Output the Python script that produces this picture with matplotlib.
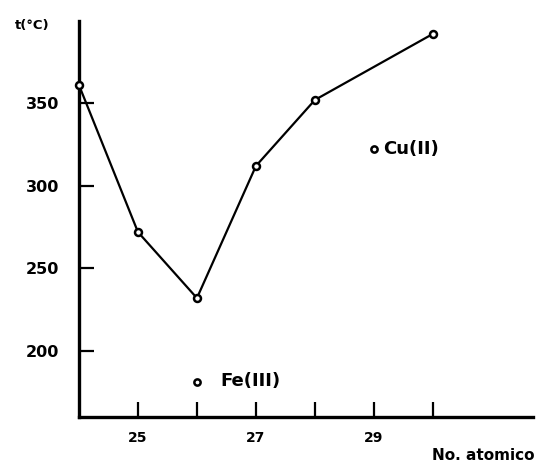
import numpy as np
import matplotlib.pyplot as plt

# dados
numero_atomico = [24, 25, 26, 27, 28, 30]
temperatura = [361, 272, 232, 312, 352, 392]

# pontos isolados
cu_x, cu_y = [29], [322]
fe_x, fe_y = [26], [181]

xticks_maiores = [25, 27, 29]
xticks_menores = [26, 28, 30]
yticks = [200, 250, 300, 350]

plt.rcParams['font.family'] = ['DejaVu Sans']
plt.rcParams['font.weight'] = 'bold'

fig = plt.figure(figsize=(5.52, 4.63), dpi=100)
ax = fig.add_axes([0.143, 0.0994, 0.823, 0.856])

ax.plot(numero_atomico, temperatura, color="black", linewidth=1.6,
        marker="o", markersize=5, markerfacecolor="white",
        markeredgecolor="black", markeredgewidth=1.8, clip_on=False, zorder=3)
ax.plot(cu_x, cu_y, "o", color="black", markersize=4.5,
        markerfacecolor="white", markeredgewidth=1.8)
ax.plot(fe_x, fe_y, "o", color="black", markersize=4.5,
        markerfacecolor="white", markeredgewidth=1.8)
ax.text(29.15, 322, "Cu(II)", fontsize=13, fontweight="bold", va="center")
ax.text(26.4, 182, "Fe(III)", fontsize=13, fontweight="bold", va="center")

ax.set_xlim(24, 31.7)
ax.set_ylim(160, 400)

ax.set_xticks(xticks_maiores)
ax.set_xticklabels([str(v) for v in xticks_maiores], fontsize=10, fontweight="bold")
ax.set_xticks(xticks_menores, minor=True)
ax.set_yticks(yticks)
ax.set_yticklabels([str(v) for v in yticks], fontsize=11.5, fontweight="bold")

ax.tick_params(axis="both", which="both", direction="in", length=11, width=1.6)
ax.tick_params(axis="x", pad=10)
ax.tick_params(axis="y", pad=14)

for lado in ["top", "right"]:
    ax.spines[lado].set_visible(False)
for lado in ["left", "bottom"]:
    ax.spines[lado].set_linewidth(2.4)

fig.text(15 / 552, 1 - 25 / 463, "t(°C)", fontsize=9.5, fontweight="bold", va="center")
fig.text(432 / 552, 1 - 455 / 463, "No. atomico", fontsize=11, fontweight="bold", va="center")

fig.savefig("out.png", dpi=100)
